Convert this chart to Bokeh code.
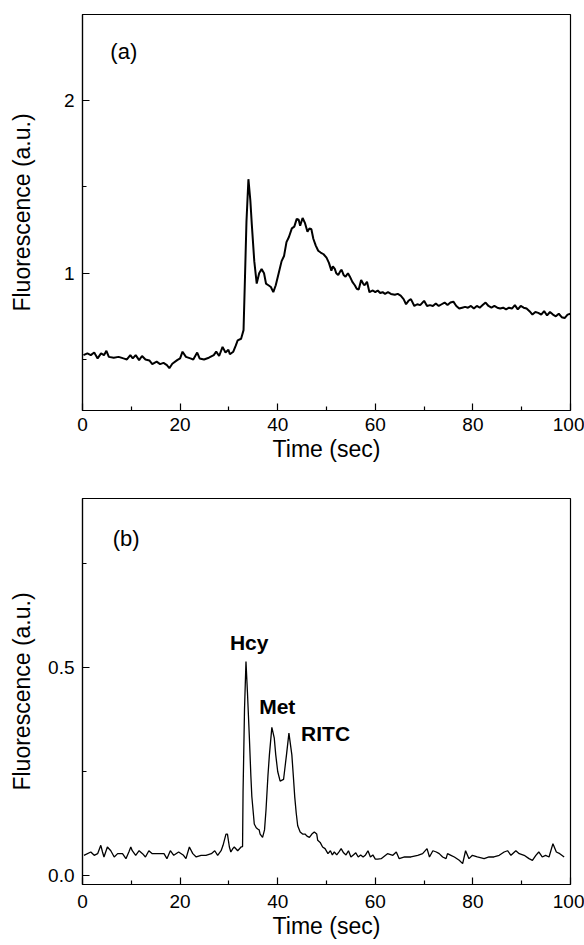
from bokeh.plotting import figure
from bokeh.models import Range1d, FixedTicker, ColumnDataSource, Label
from bokeh.layouts import column
from bokeh.embed import file_html
from bokeh.resources import INLINE

FONT = "Liberation Sans"

# ---------------- data: panel (a) ----------------
time_a = [0.2, 1.0, 1.7, 2.4, 3.1, 3.8, 4.4, 4.9, 5.4, 6.4, 7.4, 8.4, 9.1, 9.8, 10.3,
          10.9, 11.6, 12.2, 12.9, 13.7, 14.3, 15.2, 15.9, 16.6, 17.3, 17.8, 18.4, 19.4,
          20.0, 20.5, 21.2, 22.1, 22.7, 23.5, 24.0, 24.9, 25.9, 26.9, 27.4, 28.0, 28.7,
          29.3, 29.9, 30.2, 30.9, 31.4, 31.8, 32.5, 33.0, 33.3, 33.6, 34.0, 34.4, 34.7,
          35.2, 35.7, 36.2, 36.7, 37.2, 37.6, 38.1, 38.6, 39.1, 39.6, 40.2, 40.8, 41.3,
          41.8, 42.3, 42.9, 43.4, 43.9, 44.3, 44.6, 45.1, 45.6, 46.1, 46.5, 46.9, 47.3,
          47.8, 48.3, 48.8, 49.4, 50.0, 50.5, 51.0, 51.3, 51.7, 52.0, 52.4, 52.8, 53.1,
          53.5, 53.9, 54.4, 54.8, 55.3, 55.8, 56.2, 56.6, 57.1, 57.5, 57.8, 58.3, 58.8,
          59.5, 60.0, 60.5, 61.0, 61.5, 62.0, 62.6, 63.2, 64.0, 64.6, 65.2, 65.8, 66.3,
          66.8, 67.3, 68.0, 68.6, 69.2, 70.0, 70.6, 71.2, 71.8, 72.4, 73.0, 73.6, 74.2,
          74.8, 75.4, 76.0, 76.6, 77.2, 77.8, 78.4, 79.0, 79.6, 80.2, 80.8, 81.4, 82.0,
          82.6, 83.2, 83.8, 84.4, 85.0, 85.6, 86.2, 86.8, 87.4, 88.0, 88.6, 89.2, 89.8,
          90.4, 91.0, 91.6, 92.2, 92.8, 93.4, 94.0, 94.6, 95.2, 95.8, 96.4, 97.0, 97.6,
          98.2, 98.8, 99.4, 100.0]
fluor_a = [0.525, 0.535, 0.525, 0.54, 0.506, 0.535, 0.525, 0.55, 0.515, 0.51, 0.515, 0.506,
           0.5, 0.525, 0.506, 0.525, 0.496, 0.52, 0.5, 0.494, 0.473, 0.487, 0.473, 0.48,
           0.467, 0.449, 0.475, 0.496, 0.506, 0.545, 0.515, 0.506, 0.5, 0.54, 0.506, 0.5,
           0.51, 0.525, 0.545, 0.52, 0.573, 0.54, 0.556, 0.53, 0.545, 0.58, 0.61, 0.62,
           0.67, 0.98, 1.30, 1.545, 1.42, 1.28, 1.07, 0.94, 1.0, 1.025, 1.0, 0.94, 0.93,
           0.92, 0.89, 0.93, 1.0, 1.07, 1.1, 1.18, 1.21, 1.26, 1.27, 1.315, 1.31, 1.275,
           1.32, 1.29, 1.24, 1.26, 1.255, 1.2, 1.16, 1.13, 1.12, 1.11, 1.09, 1.06, 1.015,
           1.04, 1.025, 1.0, 0.99, 1.01, 1.02, 0.99, 0.98, 1.0, 0.98, 0.95, 0.93, 0.91,
           0.905, 0.96, 0.94, 0.93, 0.95, 0.89, 0.9, 0.89, 0.9, 0.885, 0.89, 0.88, 0.89,
           0.88, 0.875, 0.88, 0.87, 0.85, 0.82, 0.84, 0.85, 0.81, 0.82, 0.815, 0.84, 0.81,
           0.815, 0.81, 0.825, 0.81, 0.82, 0.83, 0.815, 0.83, 0.835, 0.81, 0.795, 0.8,
           0.805, 0.8, 0.81, 0.795, 0.81, 0.8, 0.815, 0.83, 0.81, 0.8, 0.81, 0.8, 0.795,
           0.8, 0.79, 0.8, 0.795, 0.815, 0.79, 0.81, 0.8, 0.795, 0.78, 0.76, 0.775, 0.77,
           0.76, 0.78, 0.755, 0.775, 0.76, 0.75, 0.765, 0.745, 0.74, 0.76, 0.765]

# ---------------- data: panel (b) ----------------
time_b = [0.3, 1.7, 2.4, 3.1, 3.75, 4.1, 4.4, 5.1, 5.8, 6.5, 7.2, 8.2, 8.9, 9.5, 9.9, 10.2,
          10.9, 11.6, 12.3, 12.9, 13.6, 14.3, 15.3, 16.7, 17.3, 18.0, 18.7, 19.7, 20.7,
          21.2, 21.9, 22.6, 23.3, 24.3, 25.3, 26.4, 27.1, 27.7, 28.4, 28.8, 29.4, 29.7,
          30.1, 30.4, 30.8, 31.1, 31.8, 32.5, 32.8, 32.9, 33.2, 33.5, 33.8, 34.2, 34.5,
          34.7, 35.2, 35.6, 35.9, 36.2, 36.4, 36.9, 37.3, 37.6, 38.0, 38.3, 38.8, 39.3,
          39.6, 40.0, 40.5, 41.2, 41.8, 42.3, 42.9, 43.2, 43.5, 43.8, 44.1, 44.6, 45.1,
          45.6, 46.0, 46.5, 47.0, 47.5, 48.0, 48.2, 48.7, 49.2, 49.7, 50.3, 50.8, 51.2,
          51.6, 52.1, 52.6, 53.0, 53.5, 54.0, 54.5, 55.0, 55.5, 56.0, 56.5, 57.0, 57.5,
          58.0, 58.5, 59.0, 59.5, 60.0, 60.5, 61.2, 62.5, 63.6, 64.3, 64.9, 66.0, 67.3,
          68.7, 69.7, 70.6, 71.1, 71.8, 72.5, 73.1, 73.8, 74.5, 74.8, 75.5, 76.2, 77.2,
          77.9, 78.5, 79.2, 79.9, 80.9, 82.3, 83.3, 84.3, 85.4, 86.4, 87.1, 87.8, 88.8,
          89.5, 90.5, 91.5, 92.2, 92.9, 93.5, 94.2, 94.9, 95.6, 96.4, 97.1, 97.8, 98.7]
fluor_b = [0.049, 0.057, 0.049, 0.053, 0.073, 0.057, 0.045, 0.069, 0.06, 0.045, 0.053,
           0.053, 0.041, 0.057, 0.069, 0.06, 0.049, 0.06, 0.053, 0.045, 0.06, 0.053, 0.053,
           0.053, 0.041, 0.06, 0.049, 0.057, 0.049, 0.041, 0.069, 0.053, 0.045, 0.049,
           0.049, 0.053, 0.06, 0.049, 0.06, 0.073, 0.10, 0.10, 0.069, 0.057, 0.065, 0.069,
           0.06, 0.069, 0.07, 0.2, 0.4, 0.514, 0.44, 0.33, 0.24, 0.19, 0.124, 0.115, 0.112,
           0.11, 0.10, 0.092, 0.11, 0.157, 0.24, 0.29, 0.356, 0.33, 0.29, 0.25, 0.227,
           0.231, 0.29, 0.342, 0.29, 0.24, 0.188, 0.15, 0.12, 0.105, 0.10, 0.1, 0.095,
           0.092, 0.1, 0.105, 0.1, 0.085, 0.08, 0.069, 0.065, 0.053, 0.06, 0.05, 0.057,
           0.05, 0.058, 0.065, 0.055, 0.05, 0.06, 0.045, 0.05, 0.055, 0.045, 0.05, 0.045,
           0.05, 0.06, 0.045, 0.05, 0.04, 0.04, 0.041, 0.053, 0.049, 0.057, 0.041, 0.045,
           0.045, 0.049, 0.053, 0.065, 0.045, 0.06, 0.057, 0.053, 0.045, 0.041, 0.053,
           0.049, 0.045, 0.037, 0.029, 0.06, 0.041, 0.049, 0.045, 0.041, 0.045, 0.045,
           0.049, 0.057, 0.06, 0.049, 0.06, 0.053, 0.049, 0.041, 0.037, 0.049, 0.057,
           0.045, 0.049, 0.045, 0.077, 0.057, 0.053, 0.045]

x_major = [0, 20, 40, 60, 80, 100]
x_minor = [10, 30, 50, 70, 90]
ya_major = [1, 2]
ya_minor = [0.5, 1.5, 2.5]
yb_major = [0.0, 0.5]
yb_minor = [0.25, 0.75]
yb_labels = {0.0: "0.0", 0.5: "0.5"}

peak_names = ["Hcy", "Met", "RITC"]
peak_label_t = [30.2, 36.2, 44.8]
peak_label_v = [0.56, 0.406, 0.342]


def style(p, ymaj, ymin, title_standoff, xlab_standoff, xtitle_standoff):
    p.outline_line_color = "black"
    p.outline_line_width = 1.2
    p.xgrid.visible = False
    p.ygrid.visible = False
    p.background_fill_color = "white"
    p.border_fill_color = "white"
    p.xaxis.ticker = FixedTicker(ticks=x_major, minor_ticks=x_minor)
    p.yaxis.ticker = FixedTicker(ticks=ymaj, minor_ticks=ymin)
    for ax in (p.xaxis[0], p.yaxis[0]):
        ax.axis_line_color = "black"
        ax.axis_line_width = 1.2
        ax.major_tick_in = 7
        ax.major_tick_out = 0
        ax.minor_tick_in = 4
        ax.minor_tick_out = 0
        ax.major_tick_line_color = "black"
        ax.minor_tick_line_color = "black"
        ax.major_tick_line_width = 1.2
        ax.minor_tick_line_width = 1.2
        ax.major_label_text_font = FONT
        ax.major_label_text_font_size = "19px"
        ax.major_label_text_color = "black"
        ax.axis_label_text_font = FONT
        ax.axis_label_text_font_size = "23px"
        ax.axis_label_text_font_style = "normal"
        ax.axis_label_text_color = "black"
    p.xaxis.major_label_standoff = xlab_standoff
    p.xaxis.axis_label_standoff = xtitle_standoff
    p.yaxis.major_label_standoff = 8
    p.yaxis.axis_label_standoff = title_standoff
    p.xaxis.axis_label = "Time (sec)"
    p.yaxis.axis_label = "Fluorescence (a.u.)"


# ---------------- panel (a) ----------------
pa = figure(width=584, height=468, output_backend="svg", toolbar_location=None,
            x_range=Range1d(0, 100), y_range=Range1d(0.204, 2.5),
            min_border_left=80, min_border_right=14, min_border_top=14, min_border_bottom=58)
style(pa, ya_major, ya_minor, 26, 7, 2)
pa.line(x="t", y="v", source=ColumnDataSource(dict(t=time_a, v=fluor_a)),
        line_color="black", line_width=2.0)
pa.add_layout(Label(x=5.7, y=2.284, text="(a)", text_font=FONT, text_font_size="22px",
                    text_baseline="middle", text_align="left", text_color="black"))

# ---------------- panel (b) ----------------
pb = figure(width=584, height=477, output_backend="svg", toolbar_location=None,
            x_range=Range1d(0, 100), y_range=Range1d(-0.021, 0.905),
            min_border_left=82, min_border_right=14, min_border_top=30, min_border_bottom=61)
style(pb, yb_major, yb_minor, 10, 10, 2)
pb.yaxis.major_label_overrides = yb_labels
pb.line(x="t", y="v", source=ColumnDataSource(dict(t=time_b, v=fluor_b)),
        line_color="black", line_width=1.3)
pb.add_layout(Label(x=6.2, y=0.81, text="(b)", text_font=FONT, text_font_size="22px",
                    text_baseline="middle", text_align="left", text_color="black"))
for name, tx, ty in zip(peak_names, peak_label_t, peak_label_v):
    pb.add_layout(Label(x=tx, y=ty, text=name, text_font=FONT, text_font_size="21px",
                        text_font_style="bold", text_baseline="middle", text_align="left",
                        text_color="black"))

layout = column(pa, pb, spacing=0)
open("out.html", "w").write(file_html(layout, INLINE))
